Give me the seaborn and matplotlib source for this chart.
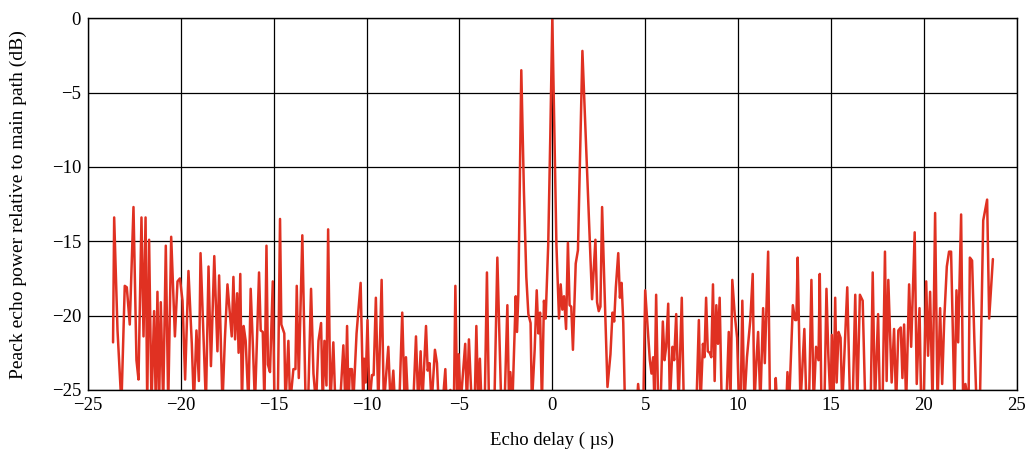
import numpy as np
import pandas as pd
import matplotlib
matplotlib.use("Agg")
import matplotlib.pyplot as plt
import seaborn as sns

# Echo delay (us) and peak echo power (dB).
# Values below -25 dB are drawn off the bottom of the axes.
delay_us = [
    -23.65, -23.59, -23.41, -23.20, -23.02, -22.91, -22.75, -22.55, -22.39, -22.28,
    -22.12, -22.01, -21.90, -21.81, -21.71, -21.58, -21.44, -21.35, -21.26, -21.17,
    -21.08, -20.95, -20.81, -20.68, -20.52, -20.32, -20.18, -20.05, -19.91, -19.77,
    -19.59, -19.41, -19.30, -19.16, -19.03, -18.94, -18.65, -18.51, -18.38, -18.20,
    -18.03, -17.94, -17.76, -17.63, -17.49, -17.26, -17.17, -17.08, -16.97, -16.89,
    -16.80, -16.71, -16.62, -16.51, -16.36, -16.24, -16.11, -16.01, -15.79, -15.70,
    -15.59, -15.50, -15.39, -15.31, -15.20, -15.05, -14.96, -14.78, -14.66, -14.59,
    -14.43, -14.37, -14.21, -14.12, -13.94, -13.83, -13.76, -13.65, -13.46, -13.28,
    -13.15, -12.99, -12.86, -12.72, -12.59, -12.45, -12.36, -12.27, -12.16, -12.07,
    -11.95, -11.79, -11.68, -11.43, -11.25, -11.14, -11.05, -10.97, -10.90, -10.79,
    -10.72, -10.54, -10.32, -10.18, -10.13, -10.05, -9.95, -9.84, -9.71, -9.62,
    -9.50, -9.37, -9.19, -9.07, -8.83, -8.71, -8.56, -8.47, -8.24, -8.08,
    -7.95, -7.88, -7.77, -7.49, -7.34, -7.22, -7.09, -7.00, -6.80, -6.71,
    -6.61, -6.50, -6.32, -6.21, -6.12, -5.91, -5.76, -5.69, -5.49, -5.40,
    -5.30, -5.22, -5.12, -5.04, -4.94, -4.69, -4.60, -4.49, -4.34, -4.18,
    -4.09, -3.99, -3.90, -3.81, -3.64, -3.52, -3.41, -3.12, -2.96, -2.75,
    -2.57, -2.42, -2.33, -2.26, -2.15, -1.97, -1.90, -1.83, -1.67, -1.53,
    -1.40, -1.29, -1.17, -1.10, -0.95, -0.84, -0.75, -0.66, -0.56, -0.45,
    -0.36, -0.22, -0.11, 0.00, 0.22, 0.36, 0.45, 0.54, 0.63, 0.74,
    0.84, 0.93, 1.02, 1.11, 1.26, 1.38, 1.62, 1.87, 2.14, 2.32,
    2.41, 2.50, 2.59, 2.68, 2.79, 2.97, 3.13, 3.24, 3.33, 3.42,
    3.55, 3.64, 3.73, 3.82, 3.91, 4.55, 4.62, 4.71, 4.90, 5.00,
    5.25, 5.34, 5.43, 5.50, 5.59, 5.70, 5.83, 5.95, 6.04, 6.13,
    6.24, 6.33, 6.47, 6.56, 6.67, 6.80, 6.97, 7.08, 7.76, 7.89,
    7.98, 8.11, 8.19, 8.28, 8.37, 8.47, 8.56, 8.65, 8.74, 8.83,
    8.92, 9.01, 9.12, 9.37, 9.50, 9.59, 9.69, 9.82, 9.95, 10.05,
    10.14, 10.23, 10.34, 10.48, 10.66, 10.79, 10.88, 10.99, 11.08, 11.20,
    11.35, 11.44, 11.62, 11.72, 11.97, 12.03, 12.10, 12.60, 12.66, 12.75,
    12.95, 13.07, 13.14, 13.21, 13.36, 13.57, 13.68, 13.82, 13.95, 14.07,
    14.20, 14.33, 14.40, 14.49, 14.65, 14.76, 14.86, 14.98, 15.05, 15.14,
    15.23, 15.31, 15.41, 15.52, 15.61, 15.88, 16.03, 16.17, 16.31, 16.42,
    16.56, 16.71, 16.85, 17.14, 17.25, 17.37, 17.54, 17.64, 17.78, 17.91,
    18.00, 18.09, 18.18, 18.27, 18.40, 18.51, 18.63, 18.76, 18.85, 18.94,
    19.05, 19.21, 19.32, 19.51, 19.62, 19.77, 19.86, 19.99, 20.13, 20.23,
    20.34, 20.47, 20.61, 20.74, 20.88, 20.99, 21.10, 21.24, 21.36, 21.47,
    21.65, 21.76, 21.85, 22.01, 22.12, 22.24, 22.41, 22.48, 22.60, 22.72,
    22.84, 23.02, 23.20, 23.41, 23.52, 23.72,
]

power_db = [
    -21.8, -13.4, -21.0, -26.0, -18.0, -18.1, -20.6, -12.7, -23.0, -24.3,
    -13.4, -21.4, -13.4, -26.0, -14.9, -26.0, -19.7, -26.0, -18.4, -26.0,
    -19.1, -26.0, -15.3, -26.0, -14.7, -21.4, -17.7, -17.5, -19.0, -24.3,
    -17.0, -21.9, -26.0, -21.0, -24.4, -15.8, -26.0, -16.7, -23.4, -16.0,
    -22.4, -17.3, -26.0, -21.6, -17.9, -21.4, -17.4, -21.6, -18.5, -22.5,
    -17.2, -26.0, -20.7, -21.7, -26.0, -18.2, -22.4, -26.0, -17.1, -21.0,
    -21.1, -26.0, -15.3, -23.3, -23.8, -17.7, -26.0, -26.0, -13.5, -20.6,
    -21.2, -26.0, -21.7, -26.0, -23.6, -23.6, -18.0, -24.2, -14.6, -26.0,
    -26.0, -18.2, -23.9, -26.0, -21.7, -20.5, -26.0, -21.7, -24.7, -14.2,
    -26.0, -21.8, -26.0, -26.0, -22.0, -26.0, -20.7, -26.0, -23.6, -23.6,
    -26.0, -21.2, -17.8, -26.0, -22.9, -24.5, -20.3, -26.0, -24.0, -24.0,
    -18.8, -26.0, -17.6, -26.0, -22.1, -26.0, -23.7, -26.0, -26.0, -19.8,
    -26.0, -22.8, -26.0, -26.0, -21.4, -26.0, -22.4, -26.0, -20.7, -23.7,
    -23.2, -26.0, -22.3, -23.2, -26.0, -26.0, -23.6, -26.0, -25.0, -26.0,
    -26.0, -18.0, -26.0, -22.6, -26.0, -21.9, -26.0, -21.6, -26.0, -26.0,
    -20.7, -26.0, -22.9, -26.0, -26.0, -17.1, -26.0, -26.0, -16.1, -26.0,
    -26.0, -19.3, -26.0, -23.8, -26.0, -18.7, -21.1, -18.6, -3.5, -11.6,
    -17.4, -19.9, -20.5, -26.0, -22.3, -18.3, -21.2, -19.8, -26.0, -19.0,
    -20.2, -15.2, -8.0, 0.0, -15.2, -20.2, -17.9, -19.6, -18.7, -20.9,
    -15.1, -19.3, -19.4, -22.3, -16.5, -15.6, -2.2, -10.2, -18.9, -14.9,
    -19.1, -19.7, -19.4, -12.7, -17.4, -24.8, -22.6, -19.8, -20.4, -18.1,
    -15.8, -18.8, -17.8, -20.5, -26.0, -26.0, -24.6, -26.0, -26.0, -18.3,
    -23.0, -23.9, -22.8, -26.0, -18.6, -26.0, -26.0, -20.4, -23.0, -22.1,
    -19.2, -26.0, -22.1, -23.0, -19.9, -26.0, -18.8, -26.0, -26.0, -20.3,
    -26.0, -21.9, -22.8, -18.8, -22.4, -22.5, -22.8, -17.9, -24.4, -19.3,
    -21.9, -18.8, -26.0, -26.0, -21.1, -26.0, -17.6, -19.9, -21.5, -26.0,
    -26.0, -19.0, -26.0, -22.8, -20.3, -17.2, -26.0, -23.0, -21.1, -26.0,
    -19.5, -23.2, -15.7, -26.0, -26.0, -24.2, -26.0, -26.0, -23.8, -26.0,
    -19.3, -20.3, -20.3, -16.1, -26.0, -20.9, -26.0, -26.0, -17.6, -26.0,
    -22.1, -23.0, -17.2, -26.0, -26.0, -18.2, -22.6, -26.0, -21.3, -26.0,
    -18.8, -24.5, -21.1, -21.5, -26.0, -18.1, -26.0, -26.0, -18.6, -26.0,
    -18.6, -19.0, -26.0, -26.0, -17.1, -26.0, -19.9, -26.0, -26.0, -15.7,
    -24.4, -17.6, -21.1, -24.5, -20.9, -26.0, -21.0, -20.8, -24.2, -20.6,
    -26.0, -17.9, -22.1, -14.4, -24.6, -19.5, -26.0, -26.0, -17.7, -22.7,
    -18.4, -26.0, -13.1, -26.0, -19.5, -24.6, -20.3, -16.7, -15.7, -15.7,
    -26.0, -18.3, -21.8, -13.2, -26.0, -24.6, -26.0, -16.1, -16.3, -21.5,
    -26.0, -26.0, -13.6, -12.2, -20.2, -16.2,
]

x_ticks = [-25, -20, -15, -10, -5, 0, 5, 10, 15, 20, 25]
y_ticks = [0, -5, -10, -15, -20, -25]

df = pd.DataFrame({"delay": delay_us, "power": power_db})

sns.set_style("white")
plt.rcParams["font.family"] = ["Liberation Serif", "DejaVu Serif"]
plt.rcParams["font.size"] = 13.5

fig = plt.figure(figsize=(10.29, 4.55), dpi=100)
ax = fig.add_axes([0.0855, 0.143, 0.9025, 0.817])

sns.lineplot(data=df, x="delay", y="power", ax=ax, color="#e03122",
             linewidth=1.8, sort=False, estimator=None)

ax.set_xlim(-25, 25)
ax.set_ylim(-25, 0)
ax.set_xticks(x_ticks)
ax.set_yticks(y_ticks)
ax.grid(True, color="black", linewidth=0.9)
ax.set_axisbelow(True)
for s in ax.spines.values():
    s.set_color("black")
    s.set_linewidth(1.0)
ax.tick_params(length=0, pad=5, labelcolor="black")

ax.set_xlabel("Echo delay ( \u00b5s)", labelpad=13, color="black")
ax.set_ylabel("Peack echo power relative to main path (dB)", labelpad=18,
              color="black", fontsize=14)

fig.savefig("out.png", dpi=100, facecolor="white")
